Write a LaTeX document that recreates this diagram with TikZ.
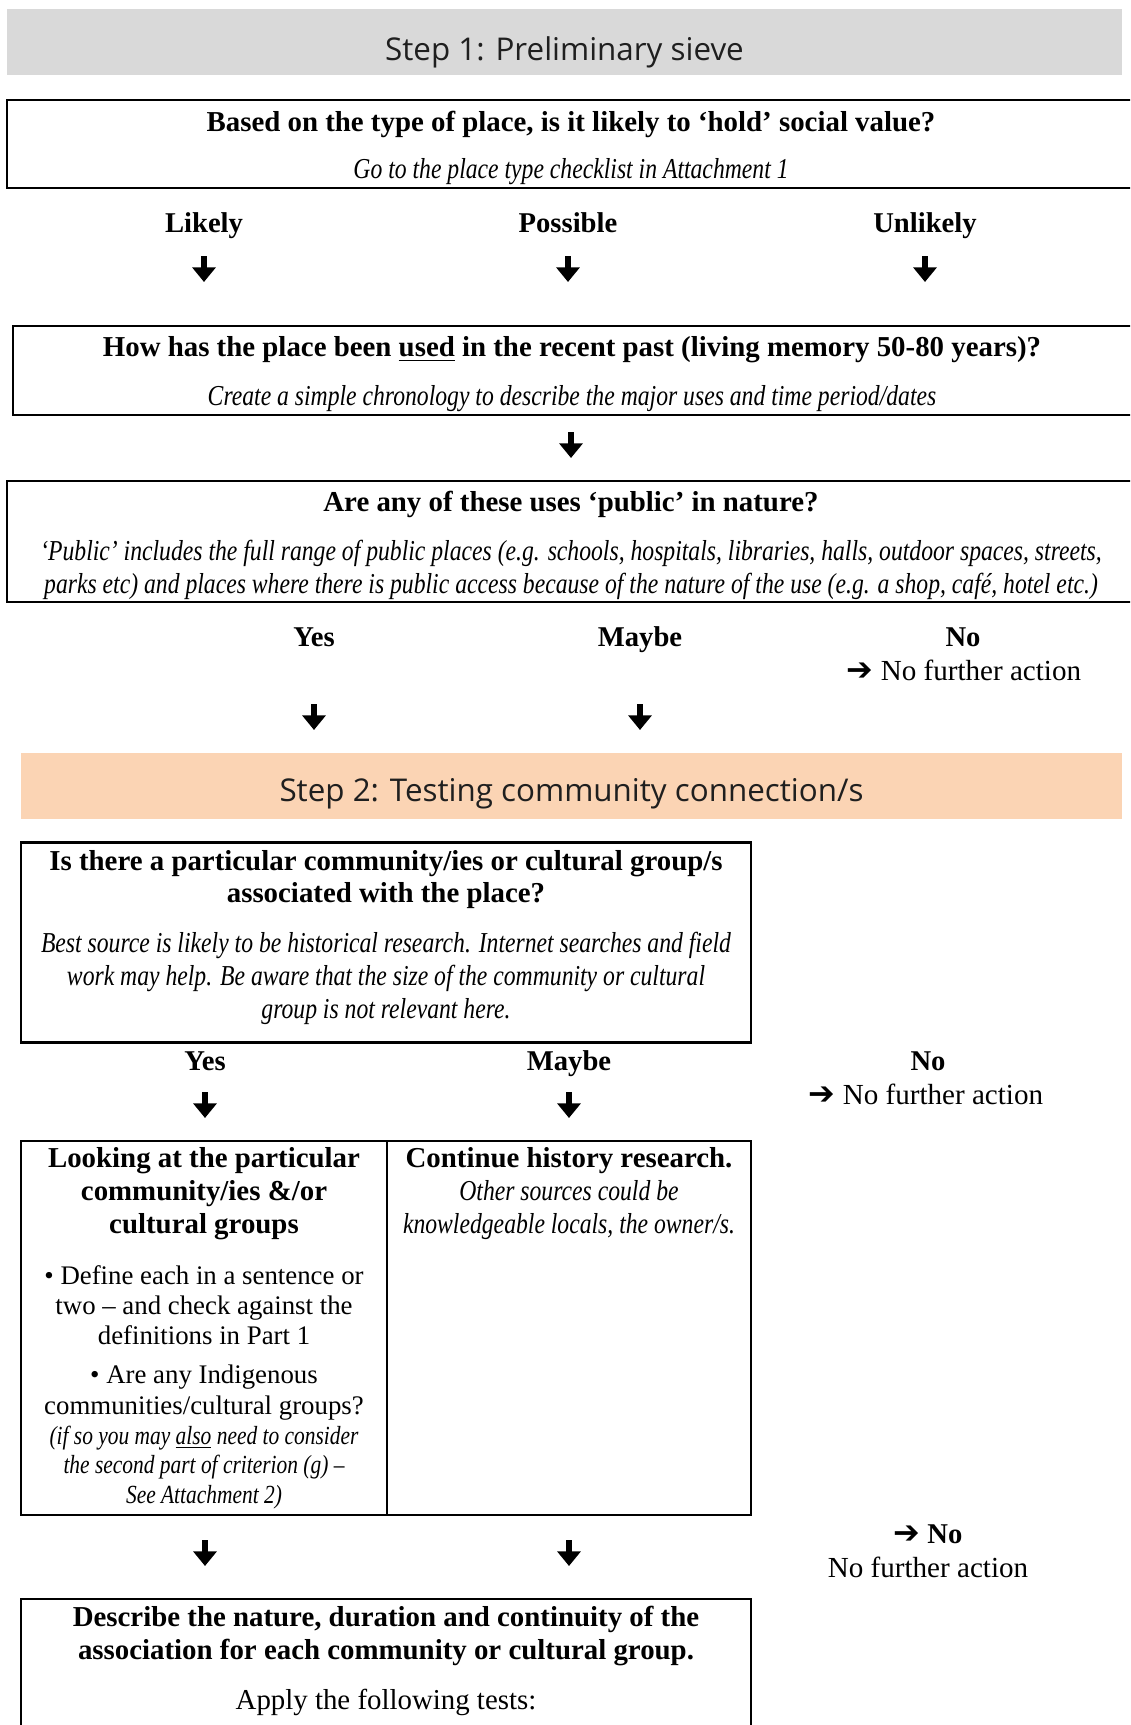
\documentclass[tikz,border=0pt]{standalone}
\usepackage{fontspec}
\setmainfont{Liberation Serif}[ItalicFeatures={FakeStretch=0.82}]
\newfontfamily\headfont{Open Sans}
\newfontfamily\symfont{DejaVu Sans}
\usetikzlibrary{arrows.meta,positioning}
\definecolor{stepgrey}{HTML}{D9D9D9}
\definecolor{steppeach}{HTML}{FBD4B4}
\newcommand{\cellrm}[1]{{\fontsize{11.8}{14.5}\selectfont #1}}
\newcommand{\cellit}[1]{{\fontsize{11.5}{14.5}\selectfont\itshape #1}}

\begin{document}
\begin{tikzpicture}[
    x=0.44pt, y=-0.44pt,
    band/.style={rectangle, inner sep=0pt, minimum height=29pt},
    bandtext/.style={font=\headfont\fontsize{13.8}{15}\selectfont, text=black!88},
    qbox/.style={rectangle, draw, line width=1pt, inner sep=0pt},
    qtext/.style={align=center, inner sep=0pt, font=\fontsize{12.7}{14.5}\selectfont},
    celltext/.style={anchor=north, align=center, inner sep=0pt,
        font=\fontsize{12.7}{14.5}\selectfont},
    ans/.style={anchor=base, font=\bfseries\fontsize{12.6}{14.5}\selectfont},
    note/.style={anchor=base, font=\fontsize{12.8}{14.5}\selectfont},
    dnarrow/.style={line width=2.6pt, -{Triangle[length=6.4pt, width=10pt]}}
]
    \useasboundingbox (0,0) rectangle (1130,1725);
    \clip (0,0) rectangle (1130,1725);

    % --- Step 1 ---
    \node[band, fill=stepgrey, minimum width=490.6pt] (band1) at (564.5,42) {};
    \node[bandtext] (step1) at (564.5,52) {Step 1: Preliminary sieve};

    \node[qbox, minimum width=496.3pt, minimum height=38.7pt] (typebox) at (571,144) {};
    \node[qtext] (typetext) at (571,147.5)
        {\textbf{Based on the type of place, is it likely to ‘hold’ social value?}\\[6.2pt]
         \textit{Go to the place type checklist in Attachment 1}};

    \node[ans] (likely) at (204,232) {Likely};
    \node[ans] (possible) at (568,232) {Possible};
    \node[ans] (unlikely) at (925,232) {Unlikely};

    \coordinate (l1) at (204,256);  \coordinate (l2) at (204,282);
    \coordinate (p1) at (568,256);  \coordinate (p2) at (568,282);
    \coordinate (u1) at (925,256);  \coordinate (u2) at (925,282);
    \draw[dnarrow] (l1) -- (l2);
    \draw[dnarrow] (p1) -- (p2);
    \draw[dnarrow] (u1) -- (u2);

    \node[qbox, minimum width=493.7pt, minimum height=39.2pt] (usedbox) at (574,370.5) {};
    \node[qtext] (usedtext) at (572,374.5)
        {\textbf{How has the place been \underline{used} in the recent past (living memory 50-80 years)?}\\[7pt]
         \textit{Create a simple chronology to describe the major uses and time period/dates}};

    \coordinate (m1) at (571,432);  \coordinate (m2) at (571,458);
    \draw[dnarrow] (m1) -- (m2);

    \node[qbox, minimum width=496.3pt, minimum height=53.2pt] (publicbox) at (571,541.5) {};
    \node[qtext] (publictext) at (571,545)
        {\textbf{Are any of these uses ‘public’ in nature?}\\[7pt]
         \textit{‘Public’ includes the full range of public places (e.g. schools, hospitals, libraries, halls, outdoor spaces, streets,}\\
         \textit{parks etc) and places where there is public access because of the nature of the use (e.g. a shop, café, hotel etc.)}};

    \node[ans] (yes1) at (314,646) {Yes};
    \node[ans] (maybe1) at (640,646) {Maybe};
    \node[ans] (no1) at (963,646) {No};
    \node[note] (stop1) at (964,680) {{\symfont\bfseries\fontsize{14}{14}\selectfont ➔} No further action};

    \coordinate (y1a) at (314,704);  \coordinate (y1b) at (314,730);
    \coordinate (m1a) at (640,704);  \coordinate (m1b) at (640,730);
    \draw[dnarrow] (y1a) -- (y1b);
    \draw[dnarrow] (m1a) -- (m1b);

    % --- Step 2 ---
    \node[band, fill=steppeach, minimum width=484.4pt] (band2) at (571.5,785.6) {};
    \node[bandtext] (step2) at (571.5,794) {Step 2: Testing community connection/s};

    \node[qbox, line width=1.3pt, minimum width=321.2pt, minimum height=87.6pt] (groupbox) at (386,942.5) {};
    \node[qtext] (grouptext) at (386,937.5)
        {\textbf{Is there a particular community/ies or cultural group/s}\\
         \textbf{associated with the place?}\\[7.5pt]
         \textit{Best source is likely to be historical research. Internet searches and field}\\
         \textit{work may help. Be aware that the size of the community or cultural}\\
         \textit{group is not relevant here.}};

    \node[ans] (yes2) at (205,1070) {Yes};
    \node[ans] (maybe2) at (569,1070) {Maybe};
    \node[ans] (no2) at (928,1070) {No};
    \node[note] (stop2) at (926,1104) {{\symfont\bfseries\fontsize{14}{14}\selectfont ➔} No further action};

    \coordinate (y2a) at (205,1092);  \coordinate (y2b) at (205,1118);
    \coordinate (m2a) at (569,1092);  \coordinate (m2b) at (569,1118);
    \draw[dnarrow] (y2a) -- (y2b);
    \draw[dnarrow] (m2a) -- (m2b);

    % two columns
    \node[qbox, minimum width=161pt, minimum height=164.6pt] (look) at (204,1328) {};
    \node[qbox, minimum width=160.2pt, minimum height=164.6pt] (cont) at (569,1328) {};

    \node[celltext] (looktext) at (204,1147)
        {\textbf{Looking at the particular}\\
         \textbf{community/ies \&/or}\\
         \textbf{cultural groups}\\[7.9pt]
         \cellrm{• Define each in a sentence or}\\[-1.3pt]
         \cellrm{two -- and check against the}\\[-1.3pt]
         \cellrm{definitions in Part 1}\\[2.7pt]
         \cellrm{• Are any Indigenous}\\[-1pt]
         \cellrm{communities/cultural groups?}\\[-1.3pt]
         \cellit{(if so you may \underline{also} need to consider}\\[-1.6pt]
         \cellit{the second part of criterion (g) --}\\[-1.3pt]
         \cellit{See Attachment 2)}};
    \node[celltext] (conttext) at (569,1147)
        {\textbf{Continue history research.}\\
         \textit{Other sources could be}\\
         \textit{knowledgeable locals, the owner/s.}};

    \coordinate (y3a) at (205,1540);  \coordinate (y3b) at (205,1566);
    \coordinate (m3a) at (569,1540);  \coordinate (m3b) at (569,1566);
    \draw[dnarrow] (y3a) -- (y3b);
    \draw[dnarrow] (m3a) -- (m3b);

    \node[ans] (no3) at (928,1543) {{\symfont\fontsize{14}{14}\selectfont ➔} No};
    \node[note] (stop3) at (928,1577) {No further action};

    % last box, runs off the page
    \node[qbox, minimum width=321.2pt, minimum height=88.4pt] (nature) at (386,1699.5) {};
    \node[celltext] (naturetext) at (386,1606)
        {\textbf{Describe the nature, duration and continuity of the}\\
         \textbf{association for each community or cultural group.}\\[7.5pt]
         Apply the following tests:};
\end{tikzpicture}
\end{document}
